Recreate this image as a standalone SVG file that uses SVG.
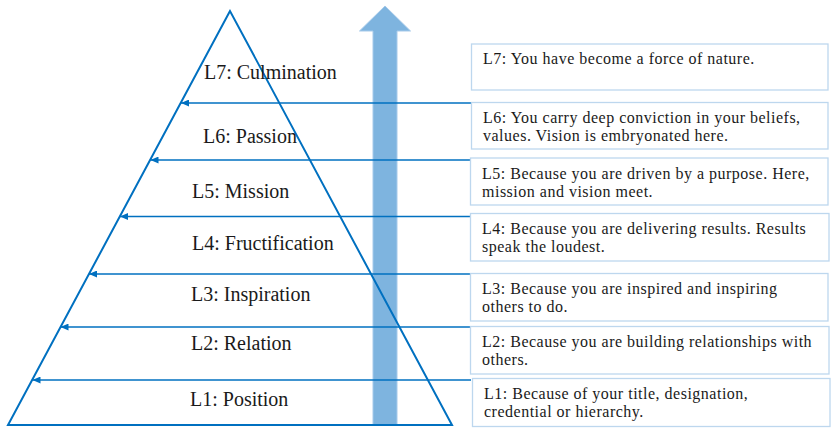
<svg xmlns="http://www.w3.org/2000/svg" width="834" height="430" viewBox="0 0 834 430">
<style>
.lbl{font-family:"Liberation Serif","DejaVu Serif",serif;font-size:20px;fill:#1a1a1a}
.txt{font-family:"Liberation Serif","DejaVu Serif",serif;font-size:16px;letter-spacing:0.5px;fill:#1a1a1a}
.box{fill:#fff;stroke:#BDD7EE;stroke-width:1.3}
.conn{stroke:#0070C0;stroke-width:1.3;fill:none;marker-end:url(#ah)}
</style>
<defs>
<marker id="ah" viewBox="0 0 8 7" refX="8" refY="3.5" markerWidth="8" markerHeight="7" markerUnits="userSpaceOnUse" orient="auto">
<path d="M0,0 L8,3.5 L0,7 z" fill="#0070C0"/>
</marker>
</defs>
<rect width="834" height="430" fill="#fff"/>
<g id="up-arrow">
<polygon points="373,425 373,31 359.5,31 385,6 410.5,31 397,31 397,425" fill="#7EB4DF" stroke="#A6CAEA" stroke-width="1"/>
</g>
<g id="pyramid">
<polygon points="230,11 8,425 452,425" fill="none" stroke="#0070C0" stroke-width="2"/>
<text class="lbl" x="204" y="79">L7: Culmination</text>
<text class="lbl" x="203" y="143">L6: Passion</text>
<text class="lbl" x="192" y="198">L5: Mission</text>
<text class="lbl" x="192" y="250">L4: Fructification</text>
<text class="lbl" x="191" y="301">L3: Inspiration</text>
<text class="lbl" x="191" y="350">L2: Relation</text>
<text class="lbl" x="190" y="406">L1: Position</text>
</g>
<g id="connectors">
<line class="conn" x1="471" y1="103" x2="181" y2="103"/>
<line class="conn" x1="471" y1="160" x2="150.5" y2="160"/>
<line class="conn" x1="471" y1="216.5" x2="120" y2="216.5"/>
<line class="conn" x1="471" y1="274" x2="89" y2="274"/>
<line class="conn" x1="471" y1="327" x2="60.5" y2="327"/>
<line class="conn" x1="471" y1="380" x2="32.5" y2="380"/>
</g>
<g id="box-l7">
<rect class="box" x="471.5" y="44" width="356.5" height="46"/>
<text class="txt" x="483" y="64">L7: You have become a force of nature.</text>
</g>
<g id="box-l6">
<rect class="box" x="471.5" y="102.5" width="356.5" height="46.5"/>
<text class="txt" x="483" y="122.5">L6: You carry deep conviction in your beliefs,</text>
<text class="txt" x="483" y="140.5">values. Vision is embryonated here.</text>
</g>
<g id="box-l5">
<rect class="box" x="470.5" y="158" width="357.5" height="47"/>
<text class="txt" x="482" y="178.5">L5: Because you are driven by a purpose. Here,</text>
<text class="txt" x="482" y="196.5">mission and vision meet.</text>
</g>
<g id="box-l4">
<rect class="box" x="470.5" y="213.5" width="358.5" height="47.5"/>
<text class="txt" x="482" y="233.5">L4: Because you are delivering results. Results</text>
<text class="txt" x="482" y="251.5">speak the loudest.</text>
</g>
<g id="box-l3">
<rect class="box" x="470.5" y="273.5" width="357.5" height="47.5"/>
<text class="txt" x="482" y="293.5">L3: Because you are inspired and inspiring</text>
<text class="txt" x="482" y="311.5">others to do.</text>
</g>
<g id="box-l2">
<rect class="box" x="470.5" y="326.5" width="358.5" height="47.5"/>
<text class="txt" x="482" y="346.5">L2: Because you are building relationships with</text>
<text class="txt" x="482" y="364.5">others.</text>
</g>
<g id="box-l1">
<rect class="box" x="472.5" y="378.5" width="357.5" height="48"/>
<text class="txt" x="484" y="398.5">L1: Because of your title, designation,</text>
<text class="txt" x="484" y="416.5">credential or hierarchy.</text>
</g>
</svg>
